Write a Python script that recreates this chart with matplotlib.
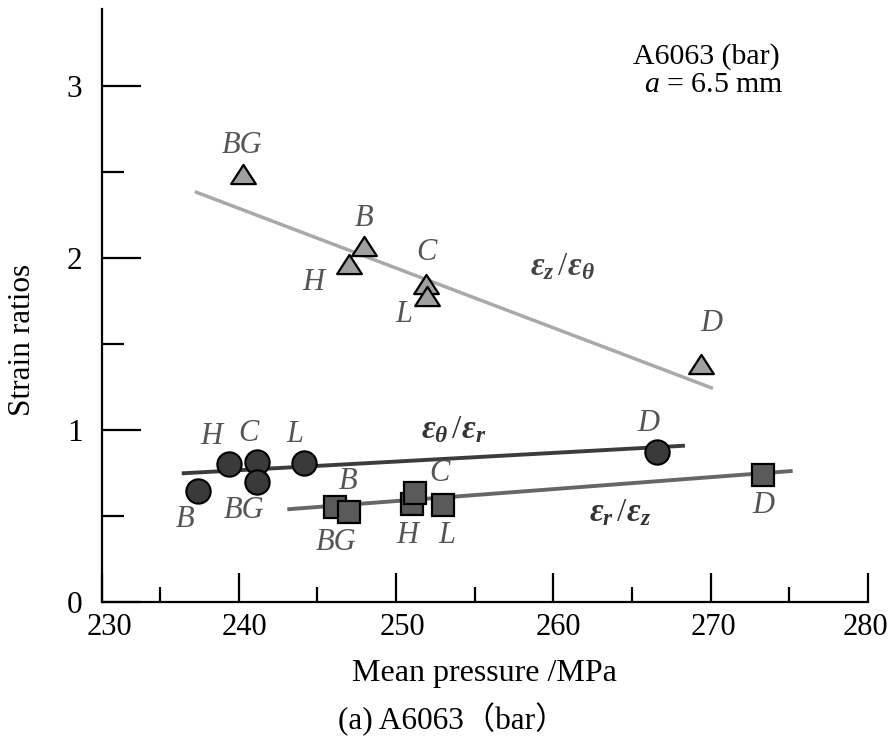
import matplotlib
matplotlib.use("Agg")
import matplotlib.pyplot as plt
from matplotlib.path import Path
from matplotlib.ticker import FixedLocator
from matplotlib.transforms import ScaledTranslation

plt.rcParams['font.family'] = ['Liberation Serif', 'Noto Sans CJK JP', 'DejaVu Sans']
plt.rcParams['mathtext.fontset'] = 'custom'
plt.rcParams['mathtext.rm'] = 'Liberation Serif'
plt.rcParams['mathtext.it'] = 'Liberation Serif:italic'
plt.rcParams['mathtext.bf'] = 'Liberation Serif:italic:bold'
plt.rcParams['mathtext.bfit'] = 'Liberation Serif:italic:bold'

# eps_z / eps_theta (triangles)
tri_labels = ['BG', 'B', 'H', 'C', 'L', 'D']
tri_x = [240.26, 247.96, 247.0, 251.88, 251.95, 269.36]
tri_y = [2.49, 2.07, 1.967, 1.85, 1.777, 1.384]

# eps_theta / eps_r (circles)
circ_labels = ['B', 'H', 'C', 'BG', 'L', 'D']
circ_x = [237.38, 239.35, 241.13, 241.13, 244.16, 266.56]
circ_y = [0.647, 0.802, 0.816, 0.70, 0.806, 0.874]

# eps_r / eps_z (squares)
sq_labels = ['B', 'BG', 'H', 'C', 'L', 'D']
sq_x = [246.11, 246.98, 251.01, 251.22, 252.96, 273.3]
sq_y = [0.551, 0.521, 0.572, 0.632, 0.566, 0.738]

# fitted trend lines (end points)
zt_fit_x = [237.2, 270.14]
zt_fit_y = [2.386, 1.242]
tr_fit_x = [236.37, 268.36]
tr_fit_y = [0.748, 0.909]
rz_fit_x = [243.08, 275.21]
rz_fit_y = [0.539, 0.762]

x_major = [240, 250, 260, 270, 280]
x_minor = [235, 245, 255, 265, 275]
y_major = [0, 1, 2, 3]
y_minor = [0.5, 1.5, 2.5]

# label offsets in pixels (dx, dy)
tri_off = [(-1, 28), (0, 27), (-36, -19), (1, 31), (-23, -18), (11, 40)]
circ_off = [(-13, -29), (-17, 28), (-8, 28), (-13, -29), (-9, 29), (-8, 28)]
sq_off = [(13, 26), (-13, -30), (-5, -32), (24, 20), (4, -31), (1, -30)]

fig = plt.figure(figsize=(8.9, 7.36), dpi=100)
ax = fig.add_axes([102 / 890, 1 - 602 / 736, (868 - 102) / 890, (602 - 9) / 736])
ax.set_xlim(231.3, 280)
ax.set_ylim(0, 3.448)

for side in ('top', 'right'):
    ax.spines[side].set_visible(False)
for side in ('left', 'bottom'):
    ax.spines[side].set_linewidth(1.6)

# flattened triangle marker
tri_marker = Path([(0, 0.775), (-1, -0.775), (1, -0.775), (0, 0.775)],
                  [Path.MOVETO, Path.LINETO, Path.LINETO, Path.CLOSEPOLY])

ax.plot(zt_fit_x, zt_fit_y, color='#a9a9a9', lw=2.5, solid_capstyle='butt', zorder=2)
ax.plot(tr_fit_x, tr_fit_y, color='#3c3c3c', lw=2.8, solid_capstyle='butt', zorder=2)
ax.plot(rz_fit_x, rz_fit_y, color='#666666', lw=2.8, solid_capstyle='butt', zorder=2)

ax.plot(tri_x, tri_y, ls='none', marker=tri_marker, ms=17.8, mfc='#a0a0a0',
        mec='black', mew=1.6, zorder=3)
ax.plot(circ_x, circ_y, ls='none', marker='o', ms=17.5, mfc='#3a3a3a',
        mec='black', mew=1.5, zorder=3)
ax.plot(sq_x, sq_y, ls='none', marker='s', ms=16.5, mfc='#5a5a5a',
        mec='black', mew=1.6, zorder=3)

lab_color = '#555555'
for labels, xs, ys, offs in ((tri_labels, tri_x, tri_y, tri_off),
                             (circ_labels, circ_x, circ_y, circ_off),
                             (sq_labels, sq_x, sq_y, sq_off)):
    for t, x, y, (dx, dy) in zip(labels, xs, ys, offs):
        ax.annotate(t, (x, y), xytext=(dx, dy), textcoords='offset pixels',
                    ha='center', va='center', fontsize=22, style='italic',
                    color=lab_color, zorder=4)

ax.text(260.6, 1.951, r'$\mathbfit{\varepsilon_z}\,/\mathbfit{\varepsilon_\theta}$',
        fontsize=24, color='#444444', ha='center', va='center')
ax.text(253.68, 1.003, r'$\mathbfit{\varepsilon_\theta}\,/\mathbfit{\varepsilon_r}$',
        fontsize=24, color='#333333', ha='center', va='center')
ax.text(264.23, 0.517, r'$\mathbfit{\varepsilon_r}\,/\mathbfit{\varepsilon_z}$',
        fontsize=24, color='#333333', ha='center', va='center')

ax.text(269.7, 3.174, 'A6063 (bar)', fontsize=21.5, ha='center', va='center')
ax.text(270.2, 3.006, r'$a$ = 6.5 mm', fontsize=21.5, ha='center', va='center')

ax.xaxis.set_major_locator(FixedLocator([231.3] + x_major))
ax.set_xticklabels(['230'] + [str(v) for v in x_major])
ax.xaxis.set_minor_locator(FixedLocator(x_minor))
ax.yaxis.set_major_locator(FixedLocator(y_major))
ax.set_yticklabels([str(v) for v in y_major])
ax.yaxis.set_minor_locator(FixedLocator(y_minor))

ax.tick_params(axis='x', which='major', direction='in', length=21, width=1.6,
               labelsize=22, pad=8)
ax.tick_params(axis='x', which='minor', direction='in', length=11, width=1.6)
ax.tick_params(axis='y', which='major', direction='in', length=28, width=1.6,
               labelsize=22.5, pad=14)
ax.tick_params(axis='y', which='minor', direction='in', length=16, width=1.6)

# x tick labels sit slightly right of their ticks; the last one stays inside
shifts_px = [7, 6, 6, 5, 3, -3]
for lbl, s in zip(ax.get_xticklabels(), shifts_px):
    lbl.set_transform(lbl.get_transform()
                      + ScaledTranslation(s / 100, 0, fig.dpi_scale_trans))

fig.text(23 / 890, 1 - 340 / 736, 'Strain ratios', rotation=90, fontsize=22.5,
         ha='center', va='center')
fig.text(484 / 890, 1 - 673 / 736, 'Mean pressure /MPa', fontsize=23,
         ha='center', va='center')
fig.text(452 / 890, 1 - 719 / 736, '(a) A6063\uff08bar\uff09', fontsize=22.5,
         ha='center', va='center')

fig.savefig('out.png', dpi=100)
